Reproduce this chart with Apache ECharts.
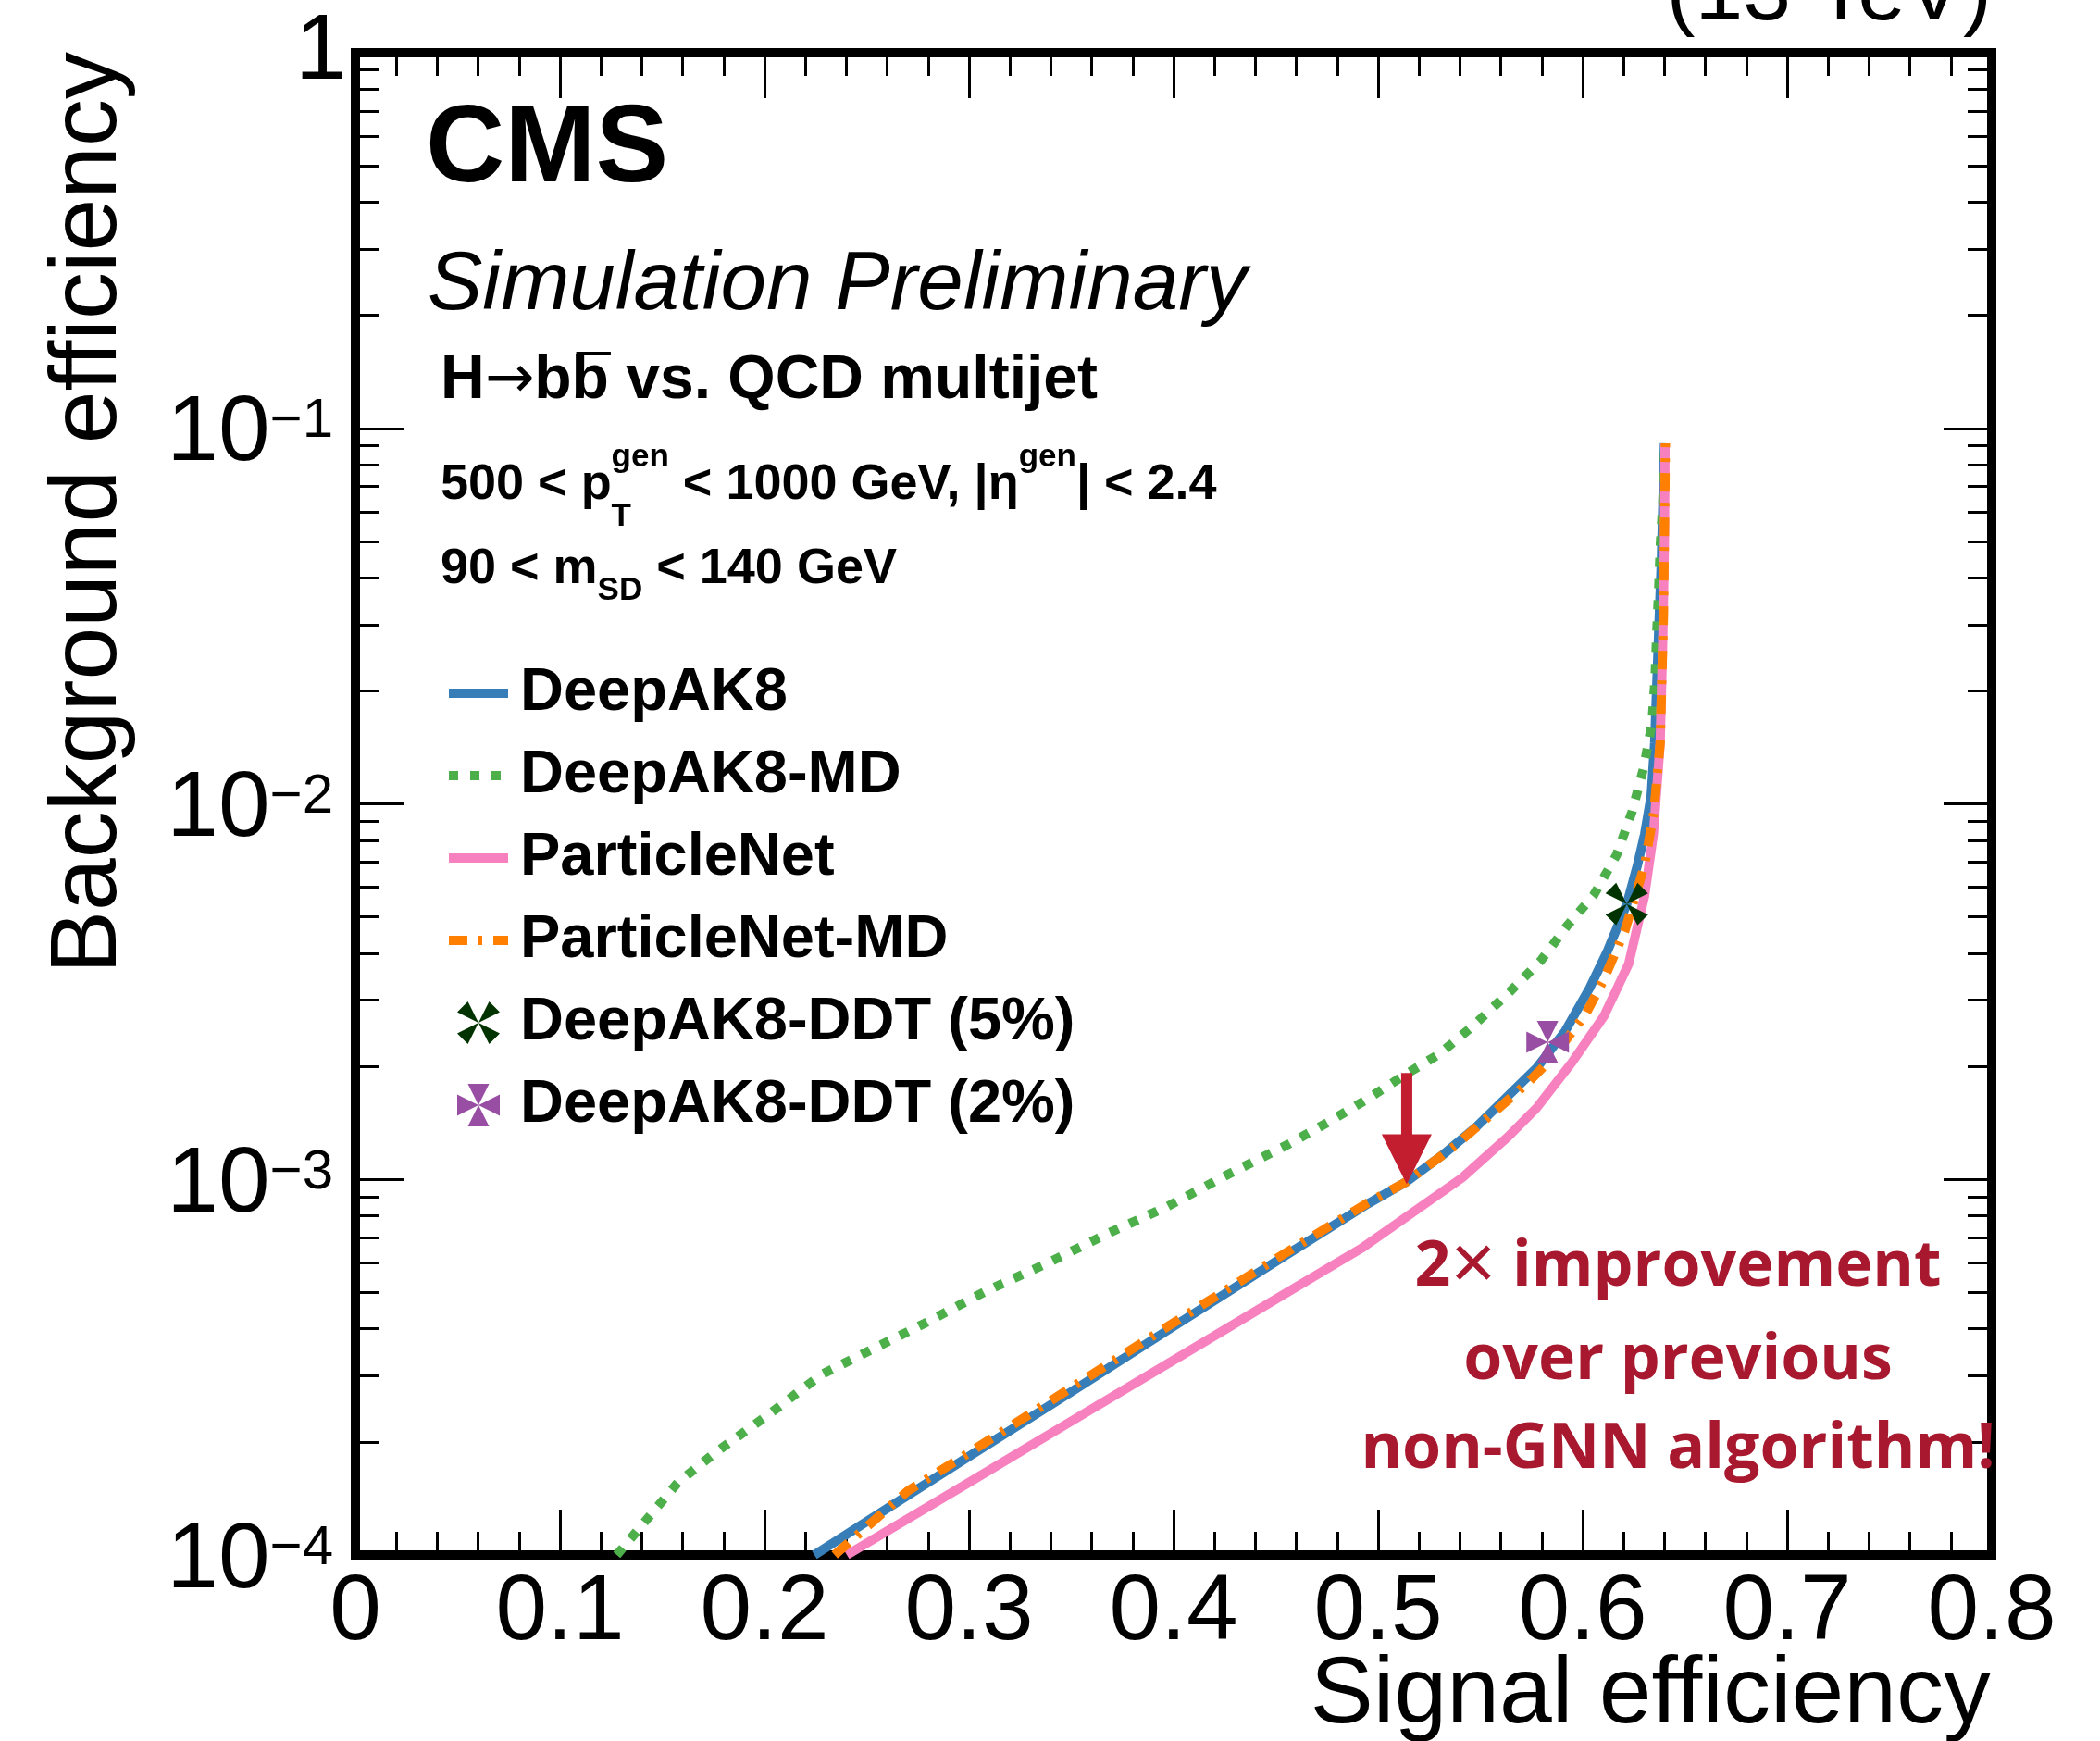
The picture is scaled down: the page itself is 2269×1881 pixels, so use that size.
<!DOCTYPE html>
<html>
<head>
<meta charset="utf-8">
<title>Background vs signal efficiency</title>
<script src="https://cdn.jsdelivr.net/npm/echarts@6.0.0/dist/echarts.min.js"></script>
<style>
    html, body { margin: 0; padding: 0; background: #fff; }
    #chart { width: 2269px; height: 1881px; }
</style>
</head>
<body>
<div id="chart"></div>
<script>
var FONT = '"Liberation Sans", Arial, Helvetica, sans-serif';
var RED_FONT = '"Open Sans", "Liberation Sans", sans-serif';
var ARROW_FONT = '"DejaVu Sans", sans-serif';

// signal efficiency (x) and background efficiency (y)
var deepak8Sig = [0.2244, 0.260, 0.300, 0.350, 0.400, 0.450, 0.495, 0.5134, 0.5314, 0.5480, 0.5636, 0.5775, 0.5914, 0.6034, 0.6121, 0.6216, 0.6268, 0.6303, 0.6335, 0.6352, 0.6368, 0.6385, 0.6400];
var deepak8Bkg = [1.00e-4, 1.33e-4, 1.83e-4, 2.72e-4, 4.06e-4, 6.04e-4, 8.61e-4, 9.82e-4, 1.16e-3, 1.38e-3, 1.67e-3, 1.98e-3, 2.48e-3, 3.23e-3, 4.05e-3, 5.41e-3, 6.87e-3, 8.30e-3, 1.05e-2, 1.45e-2, 2.51e-2, 4.47e-2, 9.12e-2];

var deepak8mdSig = [0.1278, 0.1577, 0.1758, 0.2018, 0.2278, 0.2486, 0.2784, 0.3083, 0.3382, 0.3681, 0.3966, 0.4265, 0.4561, 0.4756, 0.4950, 0.5132, 0.5301, 0.5470, 0.5639, 0.5795, 0.5925, 0.6053, 0.6166, 0.6241, 0.6299, 0.6339, 0.6354, 0.6362, 0.6372, 0.6380, 0.6392, 0.6403];
var deepak8mdBkg = [1.00e-4, 1.56e-4, 1.87e-4, 2.36e-4, 3.02e-4, 3.44e-4, 4.14e-4, 5.04e-4, 5.98e-4, 7.19e-4, 8.45e-4, 1.03e-3, 1.24e-3, 1.42e-3, 1.64e-3, 1.90e-3, 2.16e-3, 2.58e-3, 3.14e-3, 3.82e-3, 4.74e-3, 5.70e-3, 7.31e-3, 9.51e-3, 1.25e-2, 1.64e-2, 2.15e-2, 2.82e-2, 3.74e-2, 4.91e-2, 6.31e-2, 9.12e-2];

var pnetSig = [0.2403, 0.300, 0.350, 0.400, 0.450, 0.4918, 0.5411, 0.5636, 0.5775, 0.5948, 0.6104, 0.6225, 0.6303, 0.6346, 0.6379, 0.6392, 0.6400, 0.6403];
var pnetBkg = [1.00e-4, 1.56e-4, 2.27e-4, 3.30e-4, 4.80e-4, 6.55e-4, 1.01e-3, 1.30e-3, 1.55e-3, 2.05e-3, 2.72e-3, 3.75e-3, 5.69e-3, 8.30e-3, 1.45e-2, 2.77e-2, 5.01e-2, 9.12e-2];

var pnetmdSig = [0.2343, 0.270, 0.300, 0.350, 0.400, 0.450, 0.495, 0.5134, 0.5377, 0.5723, 0.5860, 0.6017, 0.6104, 0.6208, 0.6303, 0.6348, 0.6379, 0.6395, 0.6405];
var pnetmdBkg = [1.00e-4, 1.48e-4, 1.87e-4, 2.79e-4, 4.15e-4, 6.14e-4, 8.67e-4, 9.82e-4, 1.23e-3, 1.79e-3, 2.13e-3, 2.77e-3, 3.41e-3, 4.62e-3, 6.87e-3, 9.48e-3, 1.45e-2, 3.16e-2, 9.12e-2];

// working points of the DDT taggers
var ddt5 = [0.6216, 5.41e-3];
var ddt2 = [0.5829, 2.32e-3];

// red arrow: x, top of shaft, tip
var arrowPos = [0.514, 1.92e-3, 9.7e-4];

var lineNames = ['DeepAK8', 'DeepAK8-MD', 'ParticleNet', 'ParticleNet-MD'];
var markerNames = ['DeepAK8-DDT (5%)', 'DeepAK8-DDT (2%)'];

// y axis ticks: decades and 2..9 in between
var yDecades = [1e-4, 1e-3, 1e-2, 1e-1];
var yMajor = yDecades.concat([1]);
var yMinor = [];
yDecades.forEach(function (d) {
    for (var k = 2; k <= 9; k++) yMinor.push(+(k * d).toPrecision(3));
});

function pairs(xs, ys) {
    return xs.map(function (x, i) { return [x, ys[i]]; });
}

var MID = 0.30; // baseline -> "middle" offset, in em
var meas = document.createElement('canvas').getContext('2d');
function textWidth(str, fs, weight, fam) {
    meas.font = (weight || 'normal') + ' ' + fs + 'px ' + (fam || FONT);
    return meas.measureText(str).width;
}
function txt(str, x, base, fs, o) {
    o = o || {};
    var al = o.align || 'left';
    return {
        type: 'text', x: x, y: base - (o.mid || MID) * fs, z: 100,
        rotation: o.rot || 0,
        style: {
            text: str, fontSize: fs, fontFamily: o.family || FONT,
            fontWeight: o.weight || 'normal', fontStyle: o.style || 'normal',
            fill: o.color || '#000', rich: o.rich,
            align: al, textAlign: al, verticalAlign: 'middle', textVerticalAlign: 'middle'
        }
    };
}
// pieces: {t: text, fs: size, w: weight, dy: baseline shift, stack: keep x, fam: family}
function run(x0, base, pieces, els) {
    var x = x0, pos = [];
    pieces.forEach(function (p) {
        els.push(txt(p.t, x, base + (p.dy || 0), p.fs, { weight: p.w, family: p.fam }));
        var w = textWidth(p.t, p.fs, p.w, p.fam);
        pos.push([x, w]);
        if (!p.stack) x += w;
    });
    return pos;
}

var texts = [];
texts.push(txt('(13 TeV)', 2152, 23, 93, { align: 'right' }));
texts.push(txt('CMS', 460, 199, 118, { weight: 'bold' }));
texts.push(txt('Simulation Preliminary', 462, 336, 89, { style: 'italic' }));

var hpos = run(476, 432, [
    { t: 'H', fs: 66, w: 'bold' },
    { t: '\u2192', fs: 64, w: 'normal', fam: ARROW_FONT },
    { t: 'b', fs: 66, w: 'bold' },
    { t: 'b', fs: 66, w: 'bold' },
    { t: ' vs. QCD multijet', fs: 66, w: 'bold' }
], texts);
texts.push({
    type: 'line', z: 100,
    shape: { x1: hpos[3][0] + 5, y1: 382, x2: hpos[3][0] + hpos[3][1] + 2, y2: 382 },
    style: { stroke: '#000', lineWidth: 4 }
});

run(476, 540, [
    { t: '500 < p', fs: 54, w: 'bold' },
    { t: 'T', fs: 35, w: 'bold', dy: 29, stack: true },
    { t: 'gen', fs: 35, w: 'bold', dy: -35 },
    { t: ' < 1000 GeV, |\u03b7', fs: 54, w: 'bold' },
    { t: 'gen', fs: 35, w: 'bold', dy: -35 },
    { t: '| < 2.4', fs: 54, w: 'bold' }
], texts);
run(476, 631, [
    { t: '90 < m', fs: 54, w: 'bold' },
    { t: 'SD', fs: 35, w: 'bold', dy: 18 },
    { t: ' < 140 GeV', fs: 54, w: 'bold' }
], texts);

var RED = '#a8182e';
var RED_MID = 0.245;
var redRich = {
    a: { fontSize: 68, fontWeight: 'bold', fontFamily: RED_FONT, fill: RED, color: RED },
    b: { fontSize: 84, fontWeight: 'normal', fontFamily: FONT, fill: RED, color: RED }
};
texts.push(txt('{a|2}{b|\u00d7}{a| improvement}', 1813, 1386, 68, { align: 'center', family: RED_FONT, weight: 'bold', color: RED, rich: redRich, mid: RED_MID }));
texts.push(txt('over previous', 1813, 1487, 68, { align: 'center', family: RED_FONT, weight: 'bold', color: RED, mid: RED_MID }));
texts.push(txt('non-GNN algorithm!', 1813, 1583, 68, { align: 'center', family: RED_FONT, weight: 'bold', color: RED, mid: RED_MID }));

texts.push(txt('Signal efficiency', 2151, 1863, 102, { align: 'right' }));
var yTitle = txt('Background efficiency', 127 - MID * 102, 0, 102, { align: 'right', rot: Math.PI / 2 });
yTitle.y = 56;
texts.push(yTitle);

var starX = 'path://M0,25L25,0L50,50Z M75,0L100,25L50,50Z M100,75L75,100L50,50Z M25,100L0,75L50,50Z';
var starPlus = 'path://M25,0L75,0L50,50Z M25,100L75,100L50,50Z M0,25L0,75L50,50Z M100,25L100,75L50,50Z';

function xAx(pos, labels) {
    return {
        type: 'value', min: 0, max: 0.8, interval: 0.1, position: pos, gridIndex: 0,
        axisLine: { show: false },
        axisTick: { show: true, inside: true, length: 49, lineStyle: { color: '#000', width: 3 } },
        minorTick: { show: true, splitNumber: 5, length: 25, lineStyle: { color: '#000', width: 3 } },
        splitLine: { show: false }, minorSplitLine: { show: false },
        axisLabel: labels ? { show: true, margin: 13, fontSize: 100, fontFamily: FONT, color: '#000' } : { show: false }
    };
}
function yAx(pos, ticks, len, labels) {
    return {
        type: 'log', logBase: 10, min: 1e-4, max: 1, position: pos, gridIndex: 0,
        axisLine: { show: false },
        axisTick: { show: true, inside: true, length: len, customValues: ticks, lineStyle: { color: '#000', width: 3 } },
        minorTick: { show: false }, splitLine: { show: false },
        axisLabel: labels ? {
            show: true, margin: 24, customValues: yMajor, fontSize: 100, fontFamily: FONT, color: '#000',
            formatter: function (v) {
                var e = Math.round(Math.log10(v));
                return e === 0 ? '{o|1}' : '{b|10}{s|\u2212' + (-e) + '}';
            },
            rich: {
                o: { fontSize: 100, fontFamily: FONT, color: '#000', width: 41, align: 'left' },
                b: { fontSize: 100, fontFamily: FONT, color: '#000', padding: [14, 0, 0, 0] },
                s: { fontSize: 60, fontFamily: FONT, color: '#000', verticalAlign: 'top', padding: [20, 0, 0, 0] }
            }
        } : { show: false }
    };
}

function curve(name, xs, ys, color, dash) {
    return {
        name: name, type: 'line', data: pairs(xs, ys), symbol: 'none', smooth: false,
        lineStyle: { color: color, width: 10, type: dash || 'solid', cap: 'butt', join: 'round' },
        itemStyle: { color: color }
    };
}

var legendData = lineNames.map(function (n) {
    return { name: n, itemStyle: { opacity: 0 } };
}).concat(markerNames.map(function (n) {
    return { name: n, itemStyle: { opacity: 1 } };
}));

var chart = echarts.init(document.getElementById('chart'), null, { renderer: 'canvas' });
chart.setOption({
    animation: false,
    backgroundColor: '#fff',
    grid: { left: 384, right: 117, top: 57, bottom: 201, containLabel: false, outerBoundsMode: 'none',
            show: true, borderColor: '#000', borderWidth: 10, backgroundColor: 'transparent' },
    xAxis: [xAx('bottom', true), xAx('top', false)],
    yAxis: [yAx('left', yMajor, 52, true), yAx('left', yMinor, 26, false),
            yAx('right', yMajor, 52, false), yAx('right', yMinor, 26, false)],
    legend: {
        orient: 'vertical', left: 480, top: 716, padding: 0, itemWidth: 64, itemHeight: 46, itemGap: 23,
        selectedMode: false,
        lineStyle: { width: 10 },
        textStyle: { fontSize: 65, fontWeight: 'bold', fontFamily: FONT, color: '#000', lineHeight: 66,
                     padding: [0, 0, 0, 8] },
        data: legendData
    },
    series: [
        curve(lineNames[0], deepak8Sig, deepak8Bkg, '#377eb8'),
        curve(lineNames[1], deepak8mdSig, deepak8mdBkg, '#4daf4a', [10, 13]),
        curve(lineNames[2], pnetSig, pnetBkg, '#f781bf'),
        curve(lineNames[3], pnetmdSig, pnetmdBkg, '#ff7f00', [20, 12, 4, 12]),
        { name: markerNames[0], type: 'scatter', data: [ddt5], symbol: starX, symbolSize: 46,
          itemStyle: { color: '#003300', opacity: 1 }, z: 4 },
        { name: markerNames[1], type: 'scatter', data: [ddt2], symbol: starPlus, symbolSize: 46,
          itemStyle: { color: '#984ea3', opacity: 1 }, z: 4 },
        {
            type: 'custom', data: [arrowPos], encode: { x: 0, y: [1, 2] }, silent: true, z: 5,
            renderItem: function (params, api) {
                var top = api.coord([api.value(0), api.value(1)]);
                var tip = api.coord([api.value(0), api.value(2)]);
                var headH = 54, headW = 54, shaftW = 12;
                return {
                    type: 'group',
                    children: [
                        { type: 'rect', shape: { x: top[0] - shaftW / 2, y: top[1], width: shaftW, height: tip[1] - headH - top[1] + 1 },
                          style: { fill: '#c31d30' } },
                        { type: 'polygon', shape: { points: [[tip[0] - headW / 2, tip[1] - headH], [tip[0] + headW / 2, tip[1] - headH], [tip[0], tip[1]]] },
                          style: { fill: '#c31d30' } }
                    ]
                };
            }
        }
    ],
    graphic: { elements: texts }
});
</script>
</body>
</html>
